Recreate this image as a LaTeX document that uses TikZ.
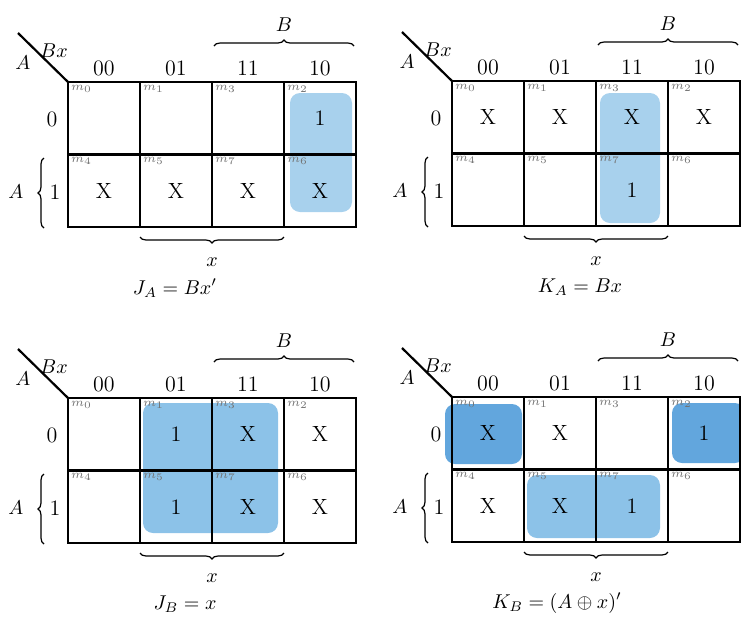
\documentclass[tikz,border=0pt]{standalone}
\usetikzlibrary{decorations.pathreplacing}

\definecolor{grouplight}{RGB}{168,209,237}
\definecolor{groupmid}{RGB}{140,194,232}
\definecolor{groupdark}{RGB}{98,166,221}

\begin{document}
\begin{tikzpicture}[x=0.5pt, y=-0.5pt,
	cell/.style={ draw, line width=1.4pt, minimum width=36pt, minimum height=36.25pt, inner sep=0pt },
	minterm/.style={ black!55, font=\fontsize{6}{7}\selectfont, anchor=north west, inner sep=0.5pt },
	entry/.style={ font=\fontsize{11}{13}\selectfont },
	head/.style={ font=\fontsize{11}{13}\selectfont },
	brc/.style={ decorate, decoration={ brace, amplitude=3pt }, line width=0.6pt },
	group/.style={ rounded corners=5pt }
]

\useasboundingbox (0,0) rectangle (741,617);

% groups of ones
\fill[group, fill=grouplight] (290,93) rectangle (352,212);
\fill[group, fill=grouplight] (600,93) rectangle (660,223);
\fill[group, fill=groupmid] (143,403) rectangle (278,533);
\fill[group, fill=groupdark] (445,404) rectangle (522,464);
\fill[group, fill=groupdark] (672,403) rectangle (745,463);
\fill[group, fill=groupmid] (527,475) rectangle (660,538);

% the four maps
\foreach \k/\ox/\oy/\cx/\eq in {ja/68/82/107/{J_A = Bx'}, ka/452/81/128/{K_A = Bx}, jb/68/398/117/{J_B = x}, kb/452/397/105/{K_B = (A \oplus x)'}} {
\begin{scope}[shift={(\ox,\oy)}, name prefix=\k-]
\foreach \r/\c/\m in {0/0/0,0/1/1,0/2/3,0/3/2,1/0/4,1/1/5,1/2/7,1/3/6} {
	\node at ({36+72*\c},{36.25+72.5*\r}) (m\m) [cell] {};
	\node at ([shift={(1.5pt,-1.5pt)}]m\m.north west) (l\m) [minterm] {$m_{\m}$};
}
\foreach \h [count=\c from 0] in {00,01,11,10} \node at ({36+72*\c},-14) (h\h) [head] {\h};
\node at (-16,37) (r0) [head] {0};
\node at (-13,110) (r1) [head] {1};

\coordinate (corner) at (0,0);
\coordinate (diag) at (-50,-49);
\draw[line width=1.1pt] (corner) -- (diag);
\node at (-14,-31) (lbx) {$Bx$};
\node at (-45,-19) (lax) {$A$};

\coordinate (bl) at (146,-36);
\coordinate (br) at (286,-36);
\draw[brc] (bl) -- (br);
\node at (216,-57) (lb) {$B$};

\coordinate (ab) at (-24,146);
\coordinate (at) at (-24,76);
\draw[brc] (ab) -- (at);
\node at (-52,110) (la) {$A$};

\coordinate (xr) at (216,155);
\coordinate (xl) at (72,155);
\draw[brc] (xr) -- (xl);
\node at (144,180) (lx) {$x$};

\node at (\cx,206) (eq) {$\eq$};
\end{scope}
}

% entries
\foreach \m/\v in {2/1,4/X,5/X,7/X,6/X} \node at (ja-m\m) (ja-v\m) [entry] {\v};
\foreach \m/\v in {0/X,1/X,3/X,2/X,7/1} \node at (ka-m\m) (ka-v\m) [entry] {\v};
\foreach \m/\v in {1/1,3/X,2/X,5/1,7/X,6/X} \node at (jb-m\m) (jb-v\m) [entry] {\v};
\foreach \m/\v in {0/X,1/X,2/1,4/X,5/X,7/1} \node at (kb-m\m) (kb-v\m) [entry] {\v};

\end{tikzpicture}
\end{document}
